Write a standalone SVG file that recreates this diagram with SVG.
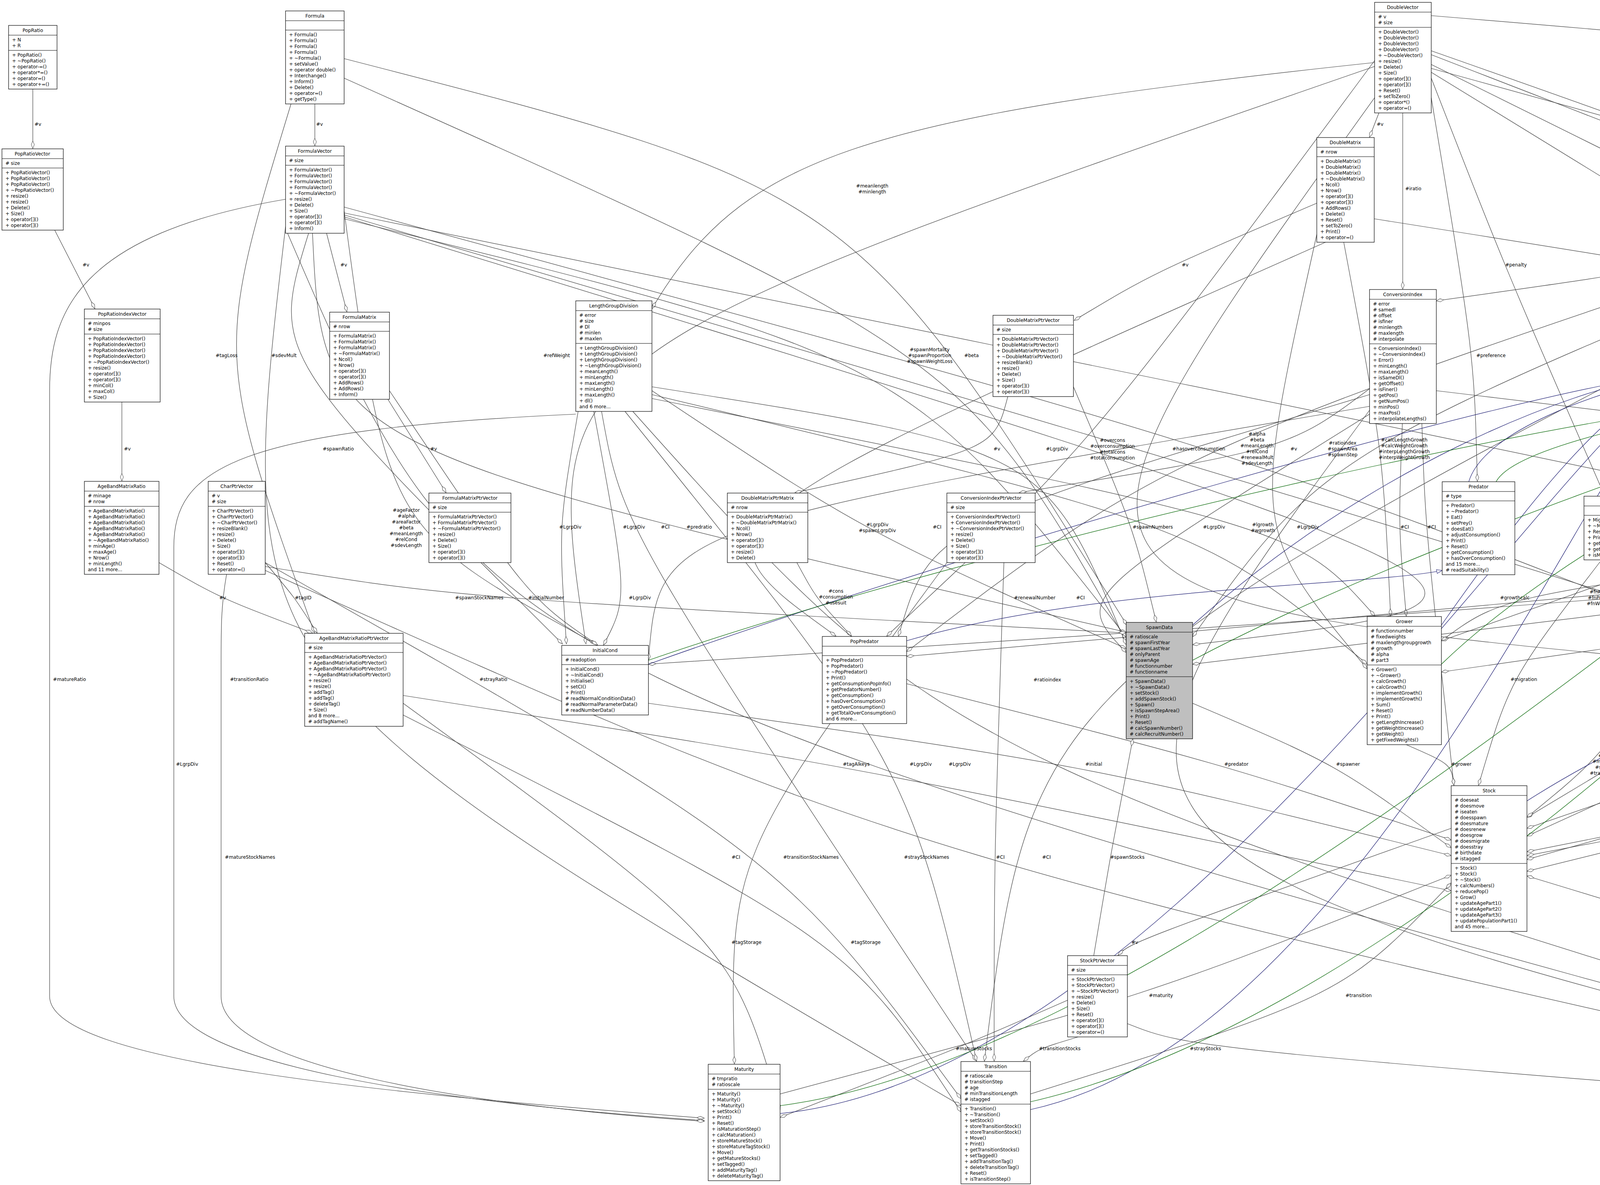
<svg xmlns="http://www.w3.org/2000/svg" width="7355" height="3033" viewBox="0 0 7355 3033">
<defs>
<style>
text{font-family:"DejaVu Sans","Liberation Sans",sans-serif;font-size:12px;fill:#000}
.t{text-anchor:middle}
.l{text-anchor:middle}
rect,line.s{stroke:#000;stroke-width:1.2}
rect{fill:#fff}
rect.hl{fill:#bfbfbf}
.e{fill:none;stroke:#404040;stroke-width:1.2}
.n{fill:none;stroke:#191970;stroke-width:1.2}
.g{fill:none;stroke:#006400;stroke-width:1.2}
</style>
<marker id="d" markerWidth="22" markerHeight="12" refX="20" refY="6" orient="auto" markerUnits="userSpaceOnUse"><path d="M1,6 L10,2 L20,6 L10,10 Z" fill="#fff" stroke="#404040"/></marker>
<marker id="tn" markerWidth="16" markerHeight="12" refX="15" refY="6" orient="auto" markerUnits="userSpaceOnUse"><path d="M1,1 L15,6 L1,11 Z" fill="#fff" stroke="#191970"/></marker>
<marker id="tg" markerWidth="16" markerHeight="12" refX="15" refY="6" orient="auto" markerUnits="userSpaceOnUse"><path d="M1,1 L15,6 L1,11 Z" fill="#fff" stroke="#006400"/></marker>
</defs>
<rect x="0" y="0" width="7355" height="3033" style="fill:#fff;stroke:none"/>
<g id="connectors">
<g marker-end="url(#d)">
<path class="e" d="M84,228 L84,380"/>
<path class="e" d="M806,266 L806,373"/>
<path class="e" d="M140,589 L243,790"/>
<path class="e" d="M836,597 L888,798"/>
<path class="e" d="M312,1029 L312,1231"/>
<path class="e" d="M993,1022 L1142,1261"/>
<path class="e" d="M3530,289 L3506,351"/>
<path class="e" d="M3591,289 L3591,740"/>
<path class="e" d="M3371,520 C2950,700 2950,700 2750,820"/>
<path class="e" d="M4999,612 L4999,828"/>
<path class="e" d="M6692,243 L6664,351"/>
<path class="e" d="M6745,243 L6780,373"/>
<path class="e" d="M6040,589 L6065,798"/>
<path class="e" d="M6625,620 L6625,791"/>
<path class="e" d="M6762,597 C6700,700 6500,760 6364,833"/>
<path class="e" d="M6625,1030 L6625,1217"/>
<path class="e" d="M3519,160 C2200,300 1900,400 1669,790"/>
<path class="e" d="M2580,1015 C2545,1149 2545,1149 2035,1261"/>
<path class="e" d="M3506,995 C3300,1149 3300,1149 2609,1261"/>
<path class="e" d="M745,266 C550,906 550,906 805,1620"/>
<path class="e" d="M790,597 C694,906 694,906 1440,1648"/>
<path class="e" d="M3519,170 C1388,906 1388,906 1500,1648"/>
<path class="e" d="M800,597 C826,1149 826,1149 2883,1618"/>
<path class="e" d="M881,540 C990,1355 990,1355 1525,1648"/>
<path class="e" d="M1480,1053 C1430,1349 1430,1349 1450,1648"/>
<path class="e" d="M1540,1053 C1593,1349 1593,1349 2500,2716"/>
<path class="e" d="M3506,1040 C1687,1349 1687,1349 1660,1690"/>
<path class="e" d="M3400,617 C1750,1349 1750,1349 2140,1628"/>
<path class="e" d="M881,150 C2190,487 2190,487 2885,1600"/>
<path class="e" d="M881,560 C2318,914 2318,914 2883,1630"/>
<path class="e" d="M881,200 C2467,910 2467,910 2883,1640"/>
<path class="e" d="M1669,990 C2676,1149 2676,1149 2883,1650"/>
<path class="e" d="M3519,155 C2780,1153 2780,1153 2270,1628"/>
<path class="e" d="M4942,505 C3002,1149 3002,1149 2321,1668"/>
<path class="e" d="M881,530 C3170,1153 3170,1153 4380,1628"/>
<path class="e" d="M4942,520 C3395,1153 3395,1153 3053,1630"/>
<path class="e" d="M3440,620 C3540,1153 3540,1153 3560,1577"/>
<path class="e" d="M1669,1000 C2200,1354 2200,1354 2883,1660"/>
<path class="e" d="M3506,1010 C2383,1349 2383,1349 2300,1628"/>
<path class="e" d="M2748,990 C2901,1349 2901,1349 2960,1592"/>
<path class="e" d="M1669,1010 C3078,1349 3078,1349 3500,1700"/>
<path class="e" d="M3371,600 C3203,1354 3203,1354 3500,1712"/>
<path class="e" d="M1669,1020 C3318,1349 3318,1349 3520,1577"/>
<path class="e" d="M3590,1084 C3580,1349 3580,1349 3600,1577"/>
<path class="e" d="M3640,1084 C3649,1349 3649,1349 3722,2010"/>
<path class="e" d="M2040,1440 C2090,1532 2090,1532 2180,1628"/>
<path class="e" d="M3664,200 C3850,678 3850,678 4108,1269"/>
<path class="e" d="M4942,520 C4300,683 4300,683 3677,770"/>
<path class="e" d="M3664,250 C3774,910 3774,910 3782,1232"/>
<path class="e" d="M3664,165 C5180,914 5180,914 5398,1239"/>
<path class="e" d="M5057,540 C5370,910 5370,910 5457,1239"/>
<path class="e" d="M3664,175 C5485,678 5485,678 5520,1239"/>
<path class="e" d="M3677,1000 C4925,1149 4925,1149 5330,1239"/>
<path class="e" d="M3664,185 C5237,1149 5237,1149 5600,1664"/>
<path class="e" d="M3664,140 C5655,910 5655,910 5533,1400"/>
<path class="e" d="M3518,560 C5760,914 5760,914 3690,1640"/>
<path class="e" d="M3664,130 C5883,910 5883,910 3909,2092"/>
<path class="e" d="M5057,600 C5555,1153 5555,1153 4595,1720"/>
<path class="e" d="M5995,1022 C5752,1149 5752,1149 5740,1268"/>
<path class="e" d="M6230,1015 C6130,1149 6130,1149 5533,1300"/>
<path class="e" d="M6040,1022 C5940,1354 5940,1354 3053,1700"/>
<path class="e" d="M6240,1015 C6103,1349 6103,1349 2321,1680"/>
<path class="e" d="M6300,1015 C6280,1349 6280,1349 3690,1720"/>
<path class="e" d="M6160,1022 C6428,1349 6428,1349 5627,1717"/>
<path class="e" d="M6363,1000 C6925,1349 6925,1349 3909,2200"/>
<path class="e" d="M6516,1480 C5625,1530 5625,1530 3909,2120"/>
<path class="e" d="M881,545 C5722,1530 5722,1530 5612,1664"/>
<path class="e" d="M6540,1486 C6270,1530 6270,1530 4595,1730"/>
<path class="e" d="M6560,1486 C6462,1530 6462,1530 6350,1658"/>
<path class="e" d="M6700,1486 C6742,1530 6742,1530 3909,2230"/>
<path class="e" d="M3664,40 C6800,300 7232,400 7232,1000 L7232,2550 C7232,2750 6000,2820 5558,2868"/>
<path class="e" d="M6520,1486 C6508,1739 6508,1739 5560,2866"/>
<path class="e" d="M5057,560 C7005,1739 7005,1739 5558,2872"/>
<path class="e" d="M5057,580 C7115,1743 7115,1743 5558,2876"/>
<path class="e" d="M6516,1470 C6102,2194 6102,2194 5558,2880"/>
<path class="e" d="M881,550 C6462,2194 6462,2194 5558,2884"/>
<path class="e" d="M6734,1400 C6795,2194 6795,2194 5558,2888"/>
<path class="e" d="M4640,1418 C3840,1530 3840,1530 3690,1640"/>
<path class="e" d="M881,555 C4060,1534 4060,1534 3053,1650"/>
<path class="e" d="M6516,1300 C4282,1530 4282,1530 1660,1700"/>
<path class="e" d="M4420,1463 C4375,1530 4375,1530 4325,1621"/>
<path class="e" d="M4100,1433 C3865,1739 3865,1739 3785,2010"/>
<path class="e" d="M3600,1906 C3715,1956 3715,1956 3722,2010"/>
<path class="e" d="M4197,1800 C4070,1960 4070,1960 3909,2092"/>
<path class="e" d="M4405,1852 C4315,1956 4315,1956 3909,2140"/>
<path class="e" d="M5461,1750 C5040,1956 5040,1956 3909,2180"/>
<path class="e" d="M6205,1730 C5143,1956 5143,1956 3909,2190"/>
<path class="e" d="M5387,2800 C4917,2548 4917,2548 3909,2242"/>
<path class="e" d="M2321,1750 C3132,1956 3132,1956 3715,2150"/>
<path class="e" d="M3053,1800 C3420,1956 3420,1956 3715,2170"/>
<path class="e" d="M1660,1800 C2775,1956 2775,1956 3715,2190"/>
<path class="e" d="M1997,2800 C2940,2548 2940,2548 3715,2240"/>
<path class="e" d="M2638,2800 C3440,2548 3440,2548 3715,2260"/>
<path class="e" d="M3715,2120 C2895,2412 2895,2412 2862,2445"/>
<path class="e" d="M2800,2446 C2842,2194 2842,2194 2900,1891"/>
<path class="e" d="M2733,2560 C2450,2684 2450,2684 1997,2860"/>
<path class="e" d="M2760,2654 C2660,2684 2660,2684 2620,2716"/>
<path class="e" d="M2886,2620 C3048,2684 3048,2684 5387,2868"/>
<path class="e" d="M2424,1440 C1868,2194 1868,2194 1880,2723"/>
<path class="e" d="M679,1440 C2006,2194 2006,2194 2460,2812"/>
<path class="e" d="M679,1460 C2320,2194 2320,2194 5387,2875"/>
<path class="e" d="M2570,1440 C2545,2194 2545,2194 2545,2716"/>
<path class="e" d="M3506,1050 C2663,2194 2663,2194 5387,2860"/>
<path class="e" d="M1032,1800 C1872,2412 1872,2412 1997,2840"/>
<path class="e" d="M1032,1830 C2177,2412 2177,2412 2460,2846"/>
<path class="e" d="M1032,1780 C2155,1956 2155,1956 3715,2280"/>
<path class="e" d="M1600,1053 C2327,1956 2327,1956 2500,2716"/>
<path class="e" d="M1620,1053 C2427,1956 2427,1956 5387,2850"/>
<path class="e" d="M3519,250 C2600,1530 2600,1530 4375,1700"/>
<path class="e" d="M3506,1060 C2750,1530 2750,1530 2883,1670"/>
<path class="e" d="M4942,560 C2643,1740 2643,1740 2520,2716"/>
<path class="e" d="M731,510 C200,600 127,800 127,1000 L127,2550 C127,2720 1000,2800 1803,2862"/>
<path class="e" d="M1474,1060 C600,1100 445,1200 445,1400 L445,2550 C445,2720 1100,2820 1803,2868"/>
<path class="e" d="M580,1470 C566,1550 566,1600 566,1700 L566,2550 C566,2730 1200,2830 1803,2870"/>
<path class="e" d="M731,580 C595,1739 595,1739 2460,2830"/>
<path class="e" d="M731,585 C1228,1739 1228,1739 5387,2866"/>
<path class="e" d="M407,1440 C562,1530 562,1530 800,1620"/>
<path class="e" d="M679,1440 C755,1530 755,1530 812,1620"/>
<path class="e" d="M679,1450 C1172,1530 1172,1530 2883,1620"/>
<path class="e" d="M997,1000 C1352,1530 1352,1530 1530,1651"/>
<path class="e" d="M1520,1053 C1608,1530 1608,1530 1545,1651"/>
</g>
<g marker-end="url(#tn)">
<path class="n" d="M3760,1233 C3800,1100 4100,1000 4275,962"/>
<path class="n" d="M4145,1270 C4150,1100 4250,1000 4278,968"/>
<path class="n" d="M4420,1240 C4400,1100 4360,1050 4340,970"/>
<path class="n" d="M4940,1240 C4900,1100 4500,1000 4396,960"/>
<path class="n" d="M5330,1240 C5300,1100 4600,1000 4396,952"/>
<path class="n" d="M3909,2050 C4300,1800 4900,1600 4945,1463"/>
<path class="n" d="M2321,1640 C2800,1500 3500,1500 3692,1460"/>
<path class="n" d="M6205,1700 C6000,1550 5600,1500 5533,1463"/>
<path class="n" d="M3053,1600 C3500,1200 4000,1000 4275,955"/>
<path class="n" d="M3690,1600 C3900,1300 4100,1050 4277,965"/>
<path class="n" d="M4975,1240 L4975,992"/>
<path class="n" d="M5345,1240 C5300,1100 5100,1050 5060,992"/>
<path class="n" d="M4595,1640 C4700,1400 4500,1100 4396,970"/>
<path class="n" d="M1997,2850 C3000,2750 4000,1100 4290,970"/>
<path class="n" d="M2638,2840 C3500,2650 4100,1100 4300,970"/>
<path class="n" d="M5450,2732 C5400,2200 4500,1100 4380,970"/>
<path class="n" d="M1660,1700 C2500,1400 3900,1000 4275,958"/>
<path class="n" d="M5461,1700 C5300,1400 4600,1050 4396,965"/>
</g>
<g marker-end="url(#tg)">
<path class="g" d="M3830,1233 C3900,1100 4700,1000 4926,945"/>
<path class="g" d="M4200,1270 C4200,1150 4600,1020 4926,955"/>
<path class="g" d="M4735,1284 C4800,1150 4900,1050 4960,992"/>
<path class="g" d="M3053,1690 C3600,1400 4500,1100 4926,965"/>
<path class="g" d="M4500,1629 C4600,1400 4950,1150 5040,992"/>
<path class="g" d="M5500,1665 C5500,1400 5150,1100 5065,992"/>
<path class="g" d="M1997,2830 C3000,2700 4500,1300 5050,992"/>
<path class="g" d="M2638,2820 C3600,2600 4800,1400 5060,992"/>
<path class="g" d="M5500,2732 C5600,2300 5300,1300 5073,980"/>
<path class="g" d="M1660,1690 C2500,1400 4200,1000 4926,975"/>
<path class="g" d="M3690,1700 C4000,1400 4600,1100 4926,985"/>
</g>
<g id="labels">
<text class="l" x="97" y="322">#v</text>
<text class="l" x="818" y="322">#v</text>
<text class="l" x="220" y="682">#v</text>
<text class="l" x="880" y="682">#v</text>
<text class="l" x="326" y="1153">#v</text>
<text class="l" x="1110" y="1153">#v</text>
<text class="l" x="3533" y="322">#v</text>
<text class="l" x="3618" y="487">#iratio</text>
<text class="l" x="3034" y="682">#v</text>
<text class="l" x="5027" y="682">#areas</text>
<text class="l" x="6681" y="322">#v</text>
<text class="l" x="6783" y="322">#v</text>
<text class="l" x="6070" y="682">#v</text>
<text class="l" x="6639" y="682">#v</text>
<text class="l" x="6744" y="682">#v</text>
<text class="l" x="6638" y="1153">#v</text>
<text class="l" x="2552" y="1153">#v</text>
<text class="l" x="3312" y="1153">#v</text>
<text class="l" x="580" y="914">#tagLoss</text>
<text class="l" x="727" y="914">#sdevMult</text>
<text class="l" x="1425" y="914">#refWeight</text>
<text class="l" x="866" y="1153">#spawnRatio</text>
<text class="l" x="1040" y="1310">#ageFactor</text>
<text class="l" x="1040" y="1325">#alpha</text>
<text class="l" x="1040" y="1340">#areaFactor</text>
<text class="l" x="1040" y="1355">#beta</text>
<text class="l" x="1040" y="1370">#meanLength</text>
<text class="l" x="1040" y="1385">#relCond</text>
<text class="l" x="1040" y="1400">#sdevLength</text>
<text class="l" x="1460" y="1353">#LgrpDiv</text>
<text class="l" x="1623" y="1353">#LgrpDiv</text>
<text class="l" x="1703" y="1353">#CI</text>
<text class="l" x="1790" y="1353">#predratio</text>
<text class="l" x="2233" y="480">#meanlength</text>
<text class="l" x="2233" y="495">#minlength</text>
<text class="l" x="2380" y="899">#spawnMortality</text>
<text class="l" x="2380" y="914">#spawnProportion</text>
<text class="l" x="2380" y="929">#spawnWeightLoss</text>
<text class="l" x="2487" y="914">#beta</text>
<text class="l" x="2706" y="1153">#LgrpDiv</text>
<text class="l" x="2848" y="1131">#overcons</text>
<text class="l" x="2848" y="1146">#overconsumption</text>
<text class="l" x="2848" y="1161">#totalcons</text>
<text class="l" x="2848" y="1176">#totalconsumption</text>
<text class="l" x="3069" y="1153">#hasoverconsumption</text>
<text class="l" x="3218" y="1115">#alpha</text>
<text class="l" x="3218" y="1130">#beta</text>
<text class="l" x="3218" y="1145">#meanLength</text>
<text class="l" x="3218" y="1160">#relCond</text>
<text class="l" x="3218" y="1175">#renewalMult</text>
<text class="l" x="3218" y="1190">#sdevLength</text>
<text class="l" x="3437" y="1138">#ratioindex</text>
<text class="l" x="3437" y="1153">#spawnArea</text>
<text class="l" x="3437" y="1168">#spawnStep</text>
<text class="l" x="3595" y="1130">#calcLengthGrowth</text>
<text class="l" x="3595" y="1145">#calcWeightGrowth</text>
<text class="l" x="3595" y="1160">#interpLengthGrowth</text>
<text class="l" x="3595" y="1175">#interpWeightGrowth</text>
<text class="l" x="2246" y="1347">#LgrpDiv</text>
<text class="l" x="2246" y="1362">#spawnLgrpDiv</text>
<text class="l" x="2399" y="1353">#CI</text>
<text class="l" x="2951" y="1353">#spawnNumbers</text>
<text class="l" x="3108" y="1353">#LgrpDiv</text>
<text class="l" x="3233" y="1347">#lgrowth</text>
<text class="l" x="3233" y="1362">#wgrowth</text>
<text class="l" x="3348" y="1353">#LgrpDiv</text>
<text class="l" x="3596" y="1353">#CI</text>
<text class="l" x="3665" y="1353">#CI</text>
<text class="l" x="2140" y="1517">#cons</text>
<text class="l" x="2140" y="1532">#consumption</text>
<text class="l" x="2140" y="1547">#usesuit</text>
<text class="l" x="3881" y="682">#penalty</text>
<text class="l" x="4334" y="653">#lpos</text>
<text class="l" x="4334" y="668">#maxpos</text>
<text class="l" x="4334" y="683">#minpos</text>
<text class="l" x="4334" y="698">#numpos</text>
<text class="l" x="4334" y="713">#pos</text>
<text class="l" x="3817" y="914">#preference</text>
<text class="l" x="5235" y="870">#biomass</text>
<text class="l" x="5235" y="885">#cons</text>
<text class="l" x="5235" y="900">#consratio</text>
<text class="l" x="5235" y="915">#consumption</text>
<text class="l" x="5235" y="930">#overconsumption</text>
<text class="l" x="5235" y="945">#ratio</text>
<text class="l" x="5235" y="960">#useratio</text>
<text class="l" x="5433" y="914">#isoverconsumption</text>
<text class="l" x="5510" y="682">#total</text>
<text class="l" x="4941" y="1153">#CI</text>
<text class="l" x="5279" y="1153">#proportion</text>
<text class="l" x="5685" y="914">#energy</text>
<text class="l" x="5805" y="892">#dummyfphi</text>
<text class="l" x="5805" y="907">#part1</text>
<text class="l" x="5805" y="922">#part2</text>
<text class="l" x="5805" y="937">#part4</text>
<text class="l" x="5920" y="914">#refWeight</text>
<text class="l" x="5612" y="1138">#renewalAge</text>
<text class="l" x="5612" y="1153">#renewalArea</text>
<text class="l" x="5612" y="1168">#renewalTime</text>
<text class="l" x="5778" y="1153">#coeff</text>
<text class="l" x="6172" y="1153">#preynumber</text>
<text class="l" x="6001" y="1347">#spawnParameters</text>
<text class="l" x="6001" y="1362">#stockParameters</text>
<text class="l" x="6145" y="1353">#prednumber</text>
<text class="l" x="6313" y="1353">#numGrow</text>
<text class="l" x="6463" y="1353">#mortality</text>
<text class="l" x="6964" y="1353">#tmpMigrate</text>
<text class="l" x="5655" y="1534">#Storage</text>
<text class="l" x="5762" y="1534">#fnMortality</text>
<text class="l" x="6340" y="1534">#renewalDistribution</text>
<text class="l" x="6500" y="1534">#preyAlkeys</text>
<text class="l" x="6789" y="1534">#tmpPopulation</text>
<text x="7238" y="1534">#strayProportion</text>
<text class="l" x="6533" y="1743">#Alkeys</text>
<text class="l" x="7045" y="1743">#ratioindex</text>
<text class="l" x="7155" y="1728">#ratioindex</text>
<text class="l" x="7155" y="1743">#strayArea</text>
<text class="l" x="7155" y="1758">#strayStep</text>
<text class="l" x="6131" y="2198">#Storage</text>
<text class="l" x="6504" y="2198">#fnProportion</text>
<text class="l" x="6823" y="2198">#Storage</text>
<text class="l" x="3878" y="1534">#growthcalc</text>
<text class="l" x="4107" y="1519">#fnMortality</text>
<text class="l" x="4107" y="1534">#fnProportion</text>
<text class="l" x="4107" y="1549">#fnWeightLoss</text>
<text class="l" x="4315" y="1534">#initialPop</text>
<text class="l" x="4390" y="1534">#v</text>
<text class="l" x="3901" y="1743">#migration</text>
<text class="l" x="3741" y="1960">#grower</text>
<text class="l" x="4117" y="1938">#allTags</text>
<text class="l" x="4117" y="1953">#matureTags</text>
<text class="l" x="4117" y="1968">#strayTags</text>
<text class="l" x="4117" y="1983">#transitionTags</text>
<text class="l" x="4343" y="1960">#renewal</text>
<text class="l" x="5074" y="1960">#naturalm</text>
<text class="l" x="5164" y="1960">#prey</text>
<text class="l" x="4941" y="2552">#stray</text>
<text class="l" x="3165" y="1960">#predator</text>
<text class="l" x="3451" y="1960">#spawner</text>
<text class="l" x="2800" y="1960">#initial</text>
<text class="l" x="2972" y="2552">#maturity</text>
<text class="l" x="3478" y="2552">#transition</text>
<text class="l" x="2905" y="2416">#v</text>
<text class="l" x="2886" y="2198">#spawnStocks</text>
<text class="l" x="2493" y="2688">#matureStocks</text>
<text class="l" x="2713" y="2688">#transitionStocks</text>
<text class="l" x="3086" y="2688">#strayStocks</text>
<text class="l" x="1884" y="2198">#CI</text>
<text class="l" x="2076" y="2198">#transitionStockNames</text>
<text class="l" x="2372" y="2198">#strayStockNames</text>
<text class="l" x="2561" y="2198">#CI</text>
<text class="l" x="2679" y="2198">#CI</text>
<text class="l" x="1911" y="2416">#tagStorage</text>
<text class="l" x="2216" y="2416">#tagStorage</text>
<text class="l" x="2192" y="1960">#tagAlkeys</text>
<text class="l" x="2357" y="1960">#LgrpDiv</text>
<text class="l" x="2457" y="1960">#LgrpDiv</text>
<text class="l" x="2649" y="1534">#renewalNumber</text>
<text class="l" x="2766" y="1534">#CI</text>
<text class="l" x="2681" y="1744">#ratioindex</text>
<text class="l" x="178" y="1743">#matureRatio</text>
<text class="l" x="479" y="1960">#LgrpDiv</text>
<text class="l" x="640" y="2198">#matureStockNames</text>
<text class="l" x="638" y="1743">#transitionRatio</text>
<text class="l" x="1263" y="1743">#strayRatio</text>
<text class="l" x="570" y="1534">#v</text>
<text class="l" x="776" y="1534">#tagID</text>
<text class="l" x="1227" y="1534">#spawnStockNames</text>
<text class="l" x="1398" y="1534">#initialNumber</text>
<text class="l" x="1638" y="1534">#LgrpDiv</text>
</g>
</g>

<g id="PopRatio"><rect x="22" y="65" width="124" height="163"/><line class="s" x1="22" y1="90" x2="146" y2="90"/><line class="s" x1="22" y1="129" x2="146" y2="129"/><text class="t" x="84" y="82">PopRatio</text><text x="31" y="106">+ N</text><text x="31" y="121">+ R</text><text x="31" y="145">+ PopRatio()</text><text x="31" y="160">+ ~PopRatio()</text><text x="31" y="175">+ operator-=()</text><text x="31" y="190">+ operator*=()</text><text x="31" y="205">+ operator=()</text><text x="31" y="220">+ operator+=()</text></g>

<g id="Formula"><rect x="731" y="28" width="150" height="238"/><line class="s" x1="731" y1="53" x2="881" y2="53"/><line class="s" x1="731" y1="77" x2="881" y2="77"/><text class="t" x="806" y="45">Formula</text><text x="740" y="93">+ Formula()</text><text x="740" y="108">+ Formula()</text><text x="740" y="123">+ Formula()</text><text x="740" y="138">+ Formula()</text><text x="740" y="153">+ ~Formula()</text><text x="740" y="168">+ setValue()</text><text x="740" y="183">+ operator double()</text><text x="740" y="198">+ Interchange()</text><text x="740" y="213">+ Inform()</text><text x="740" y="228">+ Delete()</text><text x="740" y="243">+ operator=()</text><text x="740" y="258">+ getType()</text></g>

<g id="PopRatioVector"><rect x="5" y="381" width="157" height="208"/><line class="s" x1="5" y1="406" x2="162" y2="406"/><line class="s" x1="5" y1="430" x2="162" y2="430"/><text class="t" x="83" y="398">PopRatioVector</text><text x="14" y="422"># size</text><text x="14" y="446">+ PopRatioVector()</text><text x="14" y="461">+ PopRatioVector()</text><text x="14" y="476">+ PopRatioVector()</text><text x="14" y="491">+ ~PopRatioVector()</text><text x="14" y="506">+ resize()</text><text x="14" y="521">+ resize()</text><text x="14" y="536">+ Delete()</text><text x="14" y="551">+ Size()</text><text x="14" y="566">+ operator[]()</text><text x="14" y="581">+ operator[]()</text></g>

<g id="FormulaVector"><rect x="731" y="374" width="150" height="223"/><line class="s" x1="731" y1="399" x2="881" y2="399"/><line class="s" x1="731" y1="423" x2="881" y2="423"/><text class="t" x="806" y="391">FormulaVector</text><text x="740" y="415"># size</text><text x="740" y="439">+ FormulaVector()</text><text x="740" y="454">+ FormulaVector()</text><text x="740" y="469">+ FormulaVector()</text><text x="740" y="484">+ FormulaVector()</text><text x="740" y="499">+ ~FormulaVector()</text><text x="740" y="514">+ resize()</text><text x="740" y="529">+ Delete()</text><text x="740" y="544">+ Size()</text><text x="740" y="559">+ operator[]()</text><text x="740" y="574">+ operator[]()</text><text x="740" y="589">+ Inform()</text></g>

<g id="PopRatioIndexVector"><rect x="216" y="791" width="194" height="238"/><line class="s" x1="216" y1="816" x2="410" y2="816"/><line class="s" x1="216" y1="855" x2="410" y2="855"/><text class="t" x="313" y="808">PopRatioIndexVector</text><text x="225" y="832"># minpos</text><text x="225" y="847"># size</text><text x="225" y="871">+ PopRatioIndexVector()</text><text x="225" y="886">+ PopRatioIndexVector()</text><text x="225" y="901">+ PopRatioIndexVector()</text><text x="225" y="916">+ PopRatioIndexVector()</text><text x="225" y="931">+ ~PopRatioIndexVector()</text><text x="225" y="946">+ resize()</text><text x="225" y="961">+ operator[]()</text><text x="225" y="976">+ operator[]()</text><text x="225" y="991">+ minCol()</text><text x="225" y="1006">+ maxCol()</text><text x="225" y="1021">+ Size()</text></g>

<g id="FormulaMatrix"><rect x="844" y="799" width="153" height="223"/><line class="s" x1="844" y1="824" x2="997" y2="824"/><line class="s" x1="844" y1="848" x2="997" y2="848"/><text class="t" x="920" y="816">FormulaMatrix</text><text x="853" y="840"># nrow</text><text x="853" y="864">+ FormulaMatrix()</text><text x="853" y="879">+ FormulaMatrix()</text><text x="853" y="894">+ FormulaMatrix()</text><text x="853" y="909">+ ~FormulaMatrix()</text><text x="853" y="924">+ Ncol()</text><text x="853" y="939">+ Nrow()</text><text x="853" y="954">+ operator[]()</text><text x="853" y="969">+ operator[]()</text><text x="853" y="984">+ AddRows()</text><text x="853" y="999">+ AddRows()</text><text x="853" y="1014">+ Inform()</text></g>

<g id="LengthGroupDivision"><rect x="1474" y="770" width="195" height="283"/><line class="s" x1="1474" y1="795" x2="1669" y2="795"/><line class="s" x1="1474" y1="879" x2="1669" y2="879"/><text class="t" x="1571" y="787">LengthGroupDivision</text><text x="1483" y="811"># error</text><text x="1483" y="826"># size</text><text x="1483" y="841"># Dl</text><text x="1483" y="856"># minlen</text><text x="1483" y="871"># maxlen</text><text x="1483" y="895">+ LengthGroupDivision()</text><text x="1483" y="910">+ LengthGroupDivision()</text><text x="1483" y="925">+ LengthGroupDivision()</text><text x="1483" y="940">+ ~LengthGroupDivision()</text><text x="1483" y="955">+ meanLength()</text><text x="1483" y="970">+ minLength()</text><text x="1483" y="985">+ maxLength()</text><text x="1483" y="1000">+ minLength()</text><text x="1483" y="1015">+ maxLength()</text><text x="1483" y="1030">+ dl()</text><text x="1483" y="1045">and 6 more...</text></g>

<g id="AgeBandMatrixRatio"><rect x="216" y="1232" width="191" height="238"/><line class="s" x1="216" y1="1257" x2="407" y2="1257"/><line class="s" x1="216" y1="1296" x2="407" y2="1296"/><text class="t" x="311" y="1249">AgeBandMatrixRatio</text><text x="225" y="1273"># minage</text><text x="225" y="1288"># nrow</text><text x="225" y="1312">+ AgeBandMatrixRatio()</text><text x="225" y="1327">+ AgeBandMatrixRatio()</text><text x="225" y="1342">+ AgeBandMatrixRatio()</text><text x="225" y="1357">+ AgeBandMatrixRatio()</text><text x="225" y="1372">+ AgeBandMatrixRatio()</text><text x="225" y="1387">+ ~AgeBandMatrixRatio()</text><text x="225" y="1402">+ minAge()</text><text x="225" y="1417">+ maxAge()</text><text x="225" y="1432">+ Nrow()</text><text x="225" y="1447">+ minLength()</text><text x="225" y="1462">and 11 more...</text></g>

<g id="CharPtrVector"><rect x="533" y="1232" width="146" height="238"/><line class="s" x1="533" y1="1257" x2="679" y2="1257"/><line class="s" x1="533" y1="1296" x2="679" y2="1296"/><text class="t" x="606" y="1249">CharPtrVector</text><text x="542" y="1273"># v</text><text x="542" y="1288"># size</text><text x="542" y="1312">+ CharPtrVector()</text><text x="542" y="1327">+ CharPtrVector()</text><text x="542" y="1342">+ ~CharPtrVector()</text><text x="542" y="1357">+ resizeBlank()</text><text x="542" y="1372">+ resize()</text><text x="542" y="1387">+ Delete()</text><text x="542" y="1402">+ Size()</text><text x="542" y="1417">+ operator[]()</text><text x="542" y="1432">+ operator[]()</text><text x="542" y="1447">+ Reset()</text><text x="542" y="1462">+ operator=()</text></g>

<g id="FormulaMatrixPtrVector"><rect x="1098" y="1262" width="210" height="178"/><line class="s" x1="1098" y1="1287" x2="1308" y2="1287"/><line class="s" x1="1098" y1="1311" x2="1308" y2="1311"/><text class="t" x="1203" y="1279">FormulaMatrixPtrVector</text><text x="1107" y="1303"># size</text><text x="1107" y="1327">+ FormulaMatrixPtrVector()</text><text x="1107" y="1342">+ FormulaMatrixPtrVector()</text><text x="1107" y="1357">+ ~FormulaMatrixPtrVector()</text><text x="1107" y="1372">+ resize()</text><text x="1107" y="1387">+ Delete()</text><text x="1107" y="1402">+ Size()</text><text x="1107" y="1417">+ operator[]()</text><text x="1107" y="1432">+ operator[]()</text></g>

<g id="DoubleVector"><rect x="3519" y="6" width="145" height="283"/><line class="s" x1="3519" y1="31" x2="3664" y2="31"/><line class="s" x1="3519" y1="70" x2="3664" y2="70"/><text class="t" x="3591" y="23">DoubleVector</text><text x="3528" y="47"># v</text><text x="3528" y="62"># size</text><text x="3528" y="86">+ DoubleVector()</text><text x="3528" y="101">+ DoubleVector()</text><text x="3528" y="116">+ DoubleVector()</text><text x="3528" y="131">+ DoubleVector()</text><text x="3528" y="146">+ ~DoubleVector()</text><text x="3528" y="161">+ resize()</text><text x="3528" y="176">+ Delete()</text><text x="3528" y="191">+ Size()</text><text x="3528" y="206">+ operator[]()</text><text x="3528" y="221">+ operator[]()</text><text x="3528" y="236">+ Reset()</text><text x="3528" y="251">+ setToZero()</text><text x="3528" y="266">+ operator*()</text><text x="3528" y="281">+ operator=()</text></g>

<g id="DoubleMatrix"><rect x="3371" y="352" width="147" height="268"/><line class="s" x1="3371" y1="377" x2="3518" y2="377"/><line class="s" x1="3371" y1="401" x2="3518" y2="401"/><text class="t" x="3444" y="369">DoubleMatrix</text><text x="3380" y="393"># nrow</text><text x="3380" y="417">+ DoubleMatrix()</text><text x="3380" y="432">+ DoubleMatrix()</text><text x="3380" y="447">+ DoubleMatrix()</text><text x="3380" y="462">+ ~DoubleMatrix()</text><text x="3380" y="477">+ Ncol()</text><text x="3380" y="492">+ Nrow()</text><text x="3380" y="507">+ operator[]()</text><text x="3380" y="522">+ operator[]()</text><text x="3380" y="537">+ AddRows()</text><text x="3380" y="552">+ Delete()</text><text x="3380" y="567">+ Reset()</text><text x="3380" y="582">+ setToZero()</text><text x="3380" y="597">+ Print()</text><text x="3380" y="612">+ operator=()</text></g>

<g id="ConversionIndex"><rect x="3506" y="741" width="171" height="343"/><line class="s" x1="3506" y1="766" x2="3677" y2="766"/><line class="s" x1="3506" y1="880" x2="3677" y2="880"/><text class="t" x="3591" y="758">ConversionIndex</text><text x="3515" y="782"># error</text><text x="3515" y="797"># samedl</text><text x="3515" y="812"># offset</text><text x="3515" y="827"># isfiner</text><text x="3515" y="842"># minlength</text><text x="3515" y="857"># maxlength</text><text x="3515" y="872"># interpolate</text><text x="3515" y="896">+ ConversionIndex()</text><text x="3515" y="911">+ ~ConversionIndex()</text><text x="3515" y="926">+ Error()</text><text x="3515" y="941">+ minLength()</text><text x="3515" y="956">+ maxLength()</text><text x="3515" y="971">+ isSameDl()</text><text x="3515" y="986">+ getOffset()</text><text x="3515" y="1001">+ isFiner()</text><text x="3515" y="1016">+ getPos()</text><text x="3515" y="1031">+ getNumPos()</text><text x="3515" y="1046">+ minPos()</text><text x="3515" y="1061">+ maxPos()</text><text x="3515" y="1076">+ interpolateLengths()</text></g>

<g id="DoubleMatrixPtrVector"><rect x="2542" y="807" width="206" height="208"/><line class="s" x1="2542" y1="832" x2="2748" y2="832"/><line class="s" x1="2542" y1="856" x2="2748" y2="856"/><text class="t" x="2645" y="824">DoubleMatrixPtrVector</text><text x="2551" y="848"># size</text><text x="2551" y="872">+ DoubleMatrixPtrVector()</text><text x="2551" y="887">+ DoubleMatrixPtrVector()</text><text x="2551" y="902">+ DoubleMatrixPtrVector()</text><text x="2551" y="917">+ ~DoubleMatrixPtrVector()</text><text x="2551" y="932">+ resizeBlank()</text><text x="2551" y="947">+ resize()</text><text x="2551" y="962">+ Delete()</text><text x="2551" y="977">+ Size()</text><text x="2551" y="992">+ operator[]()</text><text x="2551" y="1007">+ operator[]()</text></g>

<g id="DoubleMatrixPtrMatrix"><rect x="1862" y="1262" width="206" height="178"/><line class="s" x1="1862" y1="1287" x2="2068" y2="1287"/><line class="s" x1="1862" y1="1311" x2="2068" y2="1311"/><text class="t" x="1965" y="1279">DoubleMatrixPtrMatrix</text><text x="1871" y="1303"># nrow</text><text x="1871" y="1327">+ DoubleMatrixPtrMatrix()</text><text x="1871" y="1342">+ ~DoubleMatrixPtrMatrix()</text><text x="1871" y="1357">+ Ncol()</text><text x="1871" y="1372">+ Nrow()</text><text x="1871" y="1387">+ operator[]()</text><text x="1871" y="1402">+ operator[]()</text><text x="1871" y="1417">+ resize()</text><text x="1871" y="1432">+ Delete()</text></g>

<g id="ConversionIndexPtrVector"><rect x="2424" y="1262" width="226" height="178"/><line class="s" x1="2424" y1="1287" x2="2650" y2="1287"/><line class="s" x1="2424" y1="1311" x2="2650" y2="1311"/><text class="t" x="2537" y="1279">ConversionIndexPtrVector</text><text x="2433" y="1303"># size</text><text x="2433" y="1327">+ ConversionIndexPtrVector()</text><text x="2433" y="1342">+ ConversionIndexPtrVector()</text><text x="2433" y="1357">+ ~ConversionIndexPtrVector()</text><text x="2433" y="1372">+ resize()</text><text x="2433" y="1387">+ Delete()</text><text x="2433" y="1402">+ Size()</text><text x="2433" y="1417">+ operator[]()</text><text x="2433" y="1432">+ operator[]()</text></g>

<g id="IntVector"><rect x="4942" y="359" width="115" height="253"/><line class="s" x1="4942" y1="384" x2="5057" y2="384"/><line class="s" x1="4942" y1="423" x2="5057" y2="423"/><text class="t" x="4999" y="376">IntVector</text><text x="4951" y="400"># v</text><text x="4951" y="415"># size</text><text x="4951" y="439">+ IntVector()</text><text x="4951" y="454">+ IntVector()</text><text x="4951" y="469">+ IntVector()</text><text x="4951" y="484">+ ~IntVector()</text><text x="4951" y="499">+ resize()</text><text x="4951" y="514">+ Delete()</text><text x="4951" y="529">+ Size()</text><text x="4951" y="544">+ operator[]()</text><text x="4951" y="559">+ operator[]()</text><text x="4951" y="574">+ Reset()</text><text x="4951" y="589">+ setToZero()</text><text x="4951" y="604">+ operator=()</text></g>

<g id="HasName"><rect x="4275" y="851" width="121" height="118"/><line class="s" x1="4275" y1="876" x2="4396" y2="876"/><line class="s" x1="4275" y1="900" x2="4396" y2="900"/><text class="t" x="4335" y="868">HasName</text><text x="4284" y="916">+ HasName()</text><text x="4284" y="931">+ ~HasName()</text><text x="4284" y="946">+ HasName()</text><text x="4284" y="961">+ getName()</text></g>

<g id="LivesOnAreas"><rect x="4926" y="829" width="147" height="163"/><line class="s" x1="4926" y1="854" x2="5073" y2="854"/><line class="s" x1="4926" y1="878" x2="5073" y2="878"/><text class="t" x="4999" y="846">LivesOnAreas</text><text x="4935" y="894">+ LivesOnAreas()</text><text x="4935" y="909">+ ~LivesOnAreas()</text><text x="4935" y="924">+ LivesOnAreas()</text><text x="4935" y="939">+ isInArea()</text><text x="4935" y="954">+ getAreas()</text><text x="4935" y="969">+ areaNum()</text><text x="4935" y="984"># storeAreas()</text></g>

<g id="Predator"><rect x="3692" y="1233" width="186" height="238"/><line class="s" x1="3692" y1="1258" x2="3878" y2="1258"/><line class="s" x1="3692" y1="1282" x2="3878" y2="1282"/><text class="t" x="3785" y="1250">Predator</text><text x="3701" y="1274"># type</text><text x="3701" y="1298">+ Predator()</text><text x="3701" y="1313">+ ~Predator()</text><text x="3701" y="1328">+ Eat()</text><text x="3701" y="1343">+ setPrey()</text><text x="3701" y="1358">+ doesEat()</text><text x="3701" y="1373">+ adjustConsumption()</text><text x="3701" y="1388">+ Print()</text><text x="3701" y="1403">+ Reset()</text><text x="3701" y="1418">+ getConsumption()</text><text x="3701" y="1433">+ hasOverConsumption()</text><text x="3701" y="1448">and 15 more...</text><text x="3701" y="1463"># readSuitability()</text></g>

<g id="Migration"><rect x="4055" y="1270" width="172" height="163"/><line class="s" x1="4055" y1="1295" x2="4227" y2="1295"/><line class="s" x1="4055" y1="1319" x2="4227" y2="1319"/><text class="t" x="4141" y="1287">Migration</text><text x="4064" y="1335">+ Migration()</text><text x="4064" y="1350">+ ~Migration()</text><text x="4064" y="1365">+ Reset()</text><text x="4064" y="1380">+ Print()</text><text x="4064" y="1395">+ getMigrationMatrix()</text><text x="4064" y="1410">+ getPenalty()</text><text x="4064" y="1425">+ isMigrationStep()</text></g>

<g id="Tags"><rect x="4355" y="1240" width="189" height="223"/><line class="s" x1="4355" y1="1265" x2="4544" y2="1265"/><line class="s" x1="4355" y1="1289" x2="4544" y2="1289"/><text class="t" x="4449" y="1257">Tags</text><text x="4364" y="1305">+ Tags()</text><text x="4364" y="1320">+ ~Tags()</text><text x="4364" y="1335">+ Update()</text><text x="4364" y="1350">+ updateTags()</text><text x="4364" y="1365">+ deleteStockTags()</text><text x="4364" y="1380">+ getEndYear()</text><text x="4364" y="1395">+ getNumTagTimeSteps()</text><text x="4364" y="1410">+ getStockNames()</text><text x="4364" y="1425">+ setStock()</text><text x="4364" y="1440">+ updateMatureStock()</text><text x="4364" y="1455">and 10 more...</text></g>

<g id="GrowthCalcBase"><rect x="4620" y="1284" width="165" height="133"/><line class="s" x1="4620" y1="1309" x2="4785" y2="1309"/><line class="s" x1="4620" y1="1333" x2="4785" y2="1333"/><text class="t" x="4702" y="1301">GrowthCalcBase</text><text x="4629" y="1349">+ GrowthCalcBase()</text><text x="4629" y="1364">+ ~GrowthCalcBase()</text><text x="4629" y="1379">+ calcGrowth()</text><text x="4629" y="1394">+ getPower()</text><text x="4629" y="1409">+ getMult()</text></g>

<g id="BaseClass"><rect x="4911" y="1240" width="131" height="223"/><line class="s" x1="4911" y1="1265" x2="5042" y2="1265"/><line class="s" x1="4911" y1="1289" x2="5042" y2="1289"/><text class="t" x="4976" y="1257">BaseClass</text><text x="4920" y="1305">+ BaseClass()</text><text x="4920" y="1320">+ BaseClass()</text><text x="4920" y="1335">+ BaseClass()</text><text x="4920" y="1350">+ ~BaseClass()</text><text x="4920" y="1365">+ calcNumbers()</text><text x="4920" y="1380">+ calcEat()</text><text x="4920" y="1395">+ checkEat()</text><text x="4920" y="1410">+ adjustEat()</text><text x="4920" y="1425">+ reducePop()</text><text x="4920" y="1440">+ Grow()</text><text x="4920" y="1455">and 11 more...</text></g>

<g id="Prey"><rect x="5321" y="1240" width="212" height="223"/><line class="s" x1="5321" y1="1265" x2="5533" y2="1265"/><line class="s" x1="5321" y1="1289" x2="5533" y2="1289"/><text class="t" x="5427" y="1257">Prey</text><text x="5330" y="1281"># type</text><text x="5330" y="1305">+ Prey()</text><text x="5330" y="1320">+ Prey()</text><text x="5330" y="1335">+ ~Prey()</text><text x="5330" y="1350">+ Sum()</text><text x="5330" y="1365">+ Sum()</text><text x="5330" y="1380">+ Reset()</text><text x="5330" y="1395">+ Print()</text><text x="5330" y="1410">+ setCI()</text><text x="5330" y="1425">+ Subtract()</text><text x="5330" y="1440">+ addBiomassConsumption()</text><text x="5330" y="1455">and 16 more...</text></g>

<g id="PopInfo"><rect x="6654" y="50" width="125" height="193"/><line class="s" x1="6654" y1="75" x2="6779" y2="75"/><line class="s" x1="6654" y1="114" x2="6779" y2="114"/><text class="t" x="6716" y="67">PopInfo</text><text x="6663" y="91">+ N</text><text x="6663" y="106">+ W</text><text x="6663" y="130">+ PopInfo()</text><text x="6663" y="145">+ ~PopInfo()</text><text x="6663" y="160">+ operator-=()</text><text x="6663" y="175">+ operator*=()</text><text x="6663" y="190">+ setToZero()</text><text x="6663" y="205">+ operator=()</text><text x="6663" y="220">+ operator+=()</text><text x="6663" y="235">+ operator*()</text></g>

<g id="ModelVariable"><rect x="5952" y="381" width="151" height="208"/><line class="s" x1="5952" y1="406" x2="6103" y2="406"/><line class="s" x1="5952" y1="430" x2="6103" y2="430"/><text class="t" x="6027" y="398">ModelVariable</text><text x="5961" y="446">+ ModelVariable()</text><text x="5961" y="461">+ ~ModelVariable()</text><text x="5961" y="476">+ read()</text><text x="5961" y="491">+ operator double()</text><text x="5961" y="506">+ Interchange()</text><text x="5961" y="521">+ setValue()</text><text x="5961" y="536">+ Update()</text><text x="5961" y="551">+ Delete()</text><text x="5961" y="566">+ didChange()</text><text x="5961" y="581">+ getMvType()</text></g>

<g id="PopInfoIndexVector"><rect x="6532" y="352" width="185" height="268"/><line class="s" x1="6532" y1="377" x2="6717" y2="377"/><line class="s" x1="6532" y1="416" x2="6717" y2="416"/><text class="t" x="6624" y="369">PopInfoIndexVector</text><text x="6541" y="393"># minpos</text><text x="6541" y="408"># size</text><text x="6541" y="432">+ PopInfoIndexVector()</text><text x="6541" y="447">+ PopInfoIndexVector()</text><text x="6541" y="462">+ PopInfoIndexVector()</text><text x="6541" y="477">+ PopInfoIndexVector()</text><text x="6541" y="492">+ ~PopInfoIndexVector()</text><text x="6541" y="507">+ resize()</text><text x="6541" y="522">+ operator[]()</text><text x="6541" y="537">+ operator[]()</text><text x="6541" y="552">+ minCol()</text><text x="6541" y="567">+ maxCol()</text><text x="6541" y="582">+ Size()</text><text x="6541" y="597">+ Add()</text><text x="6541" y="612">+ Add()</text></g>

<g id="PopInfoVector"><rect x="6741" y="374" width="148" height="223"/><line class="s" x1="6741" y1="399" x2="6889" y2="399"/><line class="s" x1="6741" y1="423" x2="6889" y2="423"/><text class="t" x="6815" y="391">PopInfoVector</text><text x="6750" y="415"># size</text><text x="6750" y="439">+ PopInfoVector()</text><text x="6750" y="454">+ PopInfoVector()</text><text x="6750" y="469">+ PopInfoVector()</text><text x="6750" y="484">+ ~PopInfoVector()</text><text x="6750" y="499">+ resizeBlank()</text><text x="6750" y="514">+ resize()</text><text x="6750" y="529">+ Delete()</text><text x="6750" y="544">+ Size()</text><text x="6750" y="559">+ operator[]()</text><text x="6750" y="574">+ operator[]()</text><text x="6750" y="589">+ Sum()</text></g>

<g id="ModelVariableVector"><rect x="5984" y="799" width="193" height="223"/><line class="s" x1="5984" y1="824" x2="6177" y2="824"/><line class="s" x1="5984" y1="848" x2="6177" y2="848"/><text class="t" x="6080" y="816">ModelVariableVector</text><text x="5993" y="840"># size</text><text x="5993" y="864">+ ModelVariableVector()</text><text x="5993" y="879">+ ~ModelVariableVector()</text><text x="5993" y="894">+ setsize()</text><text x="5993" y="909">+ resize()</text><text x="5993" y="924">+ resize()</text><text x="5993" y="939">+ Size()</text><text x="5993" y="954">+ read()</text><text x="5993" y="969">+ operator[]()</text><text x="5993" y="984">+ operator[]()</text><text x="5993" y="999">+ didChange()</text><text x="5993" y="1014">+ Update()</text></g>

<g id="PopInfoMatrix"><rect x="6214" y="807" width="149" height="208"/><line class="s" x1="6214" y1="832" x2="6363" y2="832"/><line class="s" x1="6214" y1="856" x2="6363" y2="856"/><text class="t" x="6288" y="824">PopInfoMatrix</text><text x="6223" y="848"># nrow</text><text x="6223" y="872">+ PopInfoMatrix()</text><text x="6223" y="887">+ PopInfoMatrix()</text><text x="6223" y="902">+ PopInfoMatrix()</text><text x="6223" y="917">+ ~PopInfoMatrix()</text><text x="6223" y="932">+ Ncol()</text><text x="6223" y="947">+ Nrow()</text><text x="6223" y="962">+ operator[]()</text><text x="6223" y="977">+ operator[]()</text><text x="6223" y="992">+ AddRows()</text><text x="6223" y="1007">+ Delete()</text></g>

<g id="AgeBandMatrix"><rect x="6545" y="792" width="159" height="238"/><line class="s" x1="6545" y1="817" x2="6704" y2="817"/><line class="s" x1="6545" y1="856" x2="6704" y2="856"/><text class="t" x="6624" y="809">AgeBandMatrix</text><text x="6554" y="833"># minage</text><text x="6554" y="848"># nrow</text><text x="6554" y="872">+ AgeBandMatrix()</text><text x="6554" y="887">+ AgeBandMatrix()</text><text x="6554" y="902">+ AgeBandMatrix()</text><text x="6554" y="917">+ AgeBandMatrix()</text><text x="6554" y="932">+ AgeBandMatrix()</text><text x="6554" y="947">+ ~AgeBandMatrix()</text><text x="6554" y="962">+ minAge()</text><text x="6554" y="977">+ maxAge()</text><text x="6554" y="992">+ Nrow()</text><text x="6554" y="1007">+ operator[]()</text><text x="6554" y="1022">and 15 more...</text></g>

<g id="SelectFunc"><rect x="5710" y="1269" width="157" height="163"/><line class="s" x1="5710" y1="1294" x2="5867" y2="1294"/><line class="s" x1="5710" y1="1318" x2="5867" y2="1318"/><text class="t" x="5788" y="1286">SelectFunc</text><text x="5719" y="1334">+ SelectFunc()</text><text x="5719" y="1349">+ ~SelectFunc()</text><text x="5719" y="1364">+ readConstants()</text><text x="5719" y="1379">+ updateConstants()</text><text x="5719" y="1394">+ didChange()</text><text x="5719" y="1409">+ calculate()</text><text x="5719" y="1424">+ numConstants()</text></g>

<g id="AgeBandMatrixPtrVector"><rect x="6516" y="1218" width="218" height="268"/><line class="s" x1="6516" y1="1243" x2="6734" y2="1243"/><line class="s" x1="6516" y1="1267" x2="6734" y2="1267"/><text class="t" x="6625" y="1235">AgeBandMatrixPtrVector</text><text x="6525" y="1259"># size</text><text x="6525" y="1283">+ AgeBandMatrixPtrVector()</text><text x="6525" y="1298">+ AgeBandMatrixPtrVector()</text><text x="6525" y="1313">+ AgeBandMatrixPtrVector()</text><text x="6525" y="1328">+ AgeBandMatrixPtrVector()</text><text x="6525" y="1343">+ ~AgeBandMatrixPtrVector()</text><text x="6525" y="1358">+ resize()</text><text x="6525" y="1373">+ resize()</text><text x="6525" y="1388">+ resize()</text><text x="6525" y="1403">+ resize()</text><text x="6525" y="1418">+ Delete()</text><text x="6525" y="1433">+ Size()</text><text x="6525" y="1448">+ operator[]()</text><text x="6525" y="1463">+ operator[]()</text><text x="6525" y="1478">+ Migrate()</text></g>

<g id="AgeBandMatrixRatioPtrVector"><rect x="780" y="1621" width="252" height="238"/><line class="s" x1="780" y1="1646" x2="1032" y2="1646"/><line class="s" x1="780" y1="1670" x2="1032" y2="1670"/><text class="t" x="906" y="1638">AgeBandMatrixRatioPtrVector</text><text x="789" y="1662"># size</text><text x="789" y="1686">+ AgeBandMatrixRatioPtrVector()</text><text x="789" y="1701">+ AgeBandMatrixRatioPtrVector()</text><text x="789" y="1716">+ AgeBandMatrixRatioPtrVector()</text><text x="789" y="1731">+ ~AgeBandMatrixRatioPtrVector()</text><text x="789" y="1746">+ resize()</text><text x="789" y="1761">+ resize()</text><text x="789" y="1776">+ addTag()</text><text x="789" y="1791">+ addTag()</text><text x="789" y="1806">+ deleteTag()</text><text x="789" y="1821">+ Size()</text><text x="789" y="1836">and 8 more...</text><text x="789" y="1851"># addTagName()</text></g>

<g id="InitialCond"><rect x="1438" y="1652" width="222" height="178"/><line class="s" x1="1438" y1="1677" x2="1660" y2="1677"/><line class="s" x1="1438" y1="1701" x2="1660" y2="1701"/><text class="t" x="1549" y="1669">InitialCond</text><text x="1447" y="1693"># readoption</text><text x="1447" y="1717">+ InitialCond()</text><text x="1447" y="1732">+ ~InitialCond()</text><text x="1447" y="1747">+ Initialise()</text><text x="1447" y="1762">+ setCI()</text><text x="1447" y="1777">+ Print()</text><text x="1447" y="1792"># readNormalConditionData()</text><text x="1447" y="1807"># readNormalParameterData()</text><text x="1447" y="1822"># readNumberData()</text></g>

<g id="PopPredator"><rect x="2105" y="1629" width="216" height="223"/><line class="s" x1="2105" y1="1654" x2="2321" y2="1654"/><line class="s" x1="2105" y1="1678" x2="2321" y2="1678"/><text class="t" x="2213" y="1646">PopPredator</text><text x="2114" y="1694">+ PopPredator()</text><text x="2114" y="1709">+ PopPredator()</text><text x="2114" y="1724">+ ~PopPredator()</text><text x="2114" y="1739">+ Print()</text><text x="2114" y="1754">+ getConsumptionPopInfo()</text><text x="2114" y="1769">+ getPredatorNumber()</text><text x="2114" y="1784">+ getConsumption()</text><text x="2114" y="1799">+ hasOverConsumption()</text><text x="2114" y="1814">+ getOverConsumption()</text><text x="2114" y="1829">+ getTotalOverConsumption()</text><text x="2114" y="1844">and 6 more...</text></g>

<g id="SpawnData"><rect class="hl" x="2883" y="1593" width="170" height="298"/><line class="s" x1="2883" y1="1618" x2="3053" y2="1618"/><line class="s" x1="2883" y1="1732" x2="3053" y2="1732"/><text class="t" x="2968" y="1610">SpawnData</text><text x="2892" y="1634"># ratioscale</text><text x="2892" y="1649"># spawnFirstYear</text><text x="2892" y="1664"># spawnLastYear</text><text x="2892" y="1679"># onlyParent</text><text x="2892" y="1694"># spawnAge</text><text x="2892" y="1709"># functionnumber</text><text x="2892" y="1724"># functionname</text><text x="2892" y="1748">+ SpawnData()</text><text x="2892" y="1763">+ ~SpawnData()</text><text x="2892" y="1778">+ setStock()</text><text x="2892" y="1793">+ addSpawnStock()</text><text x="2892" y="1808">+ Spawn()</text><text x="2892" y="1823">+ isSpawnStepArea()</text><text x="2892" y="1838">+ Print()</text><text x="2892" y="1853">+ Reset()</text><text x="2892" y="1868"># calcSpawnNumber()</text><text x="2892" y="1883"># calcRecruitNumber()</text></g>

<g id="Grower"><rect x="3500" y="1578" width="190" height="328"/><line class="s" x1="3500" y1="1603" x2="3690" y2="1603"/><line class="s" x1="3500" y1="1702" x2="3690" y2="1702"/><text class="t" x="3595" y="1595">Grower</text><text x="3509" y="1619"># functionnumber</text><text x="3509" y="1634"># fixedweights</text><text x="3509" y="1649"># maxlengthgroupgrowth</text><text x="3509" y="1664"># growth</text><text x="3509" y="1679"># alpha</text><text x="3509" y="1694"># part3</text><text x="3509" y="1718">+ Grower()</text><text x="3509" y="1733">+ ~Grower()</text><text x="3509" y="1748">+ calcGrowth()</text><text x="3509" y="1763">+ calcGrowth()</text><text x="3509" y="1778">+ implementGrowth()</text><text x="3509" y="1793">+ implementGrowth()</text><text x="3509" y="1808">+ Sum()</text><text x="3509" y="1823">+ Reset()</text><text x="3509" y="1838">+ Print()</text><text x="3509" y="1853">+ getLengthIncrease()</text><text x="3509" y="1868">+ getWeightIncrease()</text><text x="3509" y="1883">+ getWeight()</text><text x="3509" y="1898">+ getFixedWeights()</text></g>

<g id="StockPtrVector"><rect x="2733" y="2446" width="153" height="208"/><line class="s" x1="2733" y1="2471" x2="2886" y2="2471"/><line class="s" x1="2733" y1="2495" x2="2886" y2="2495"/><text class="t" x="2809" y="2463">StockPtrVector</text><text x="2742" y="2487"># size</text><text x="2742" y="2511">+ StockPtrVector()</text><text x="2742" y="2526">+ StockPtrVector()</text><text x="2742" y="2541">+ ~StockPtrVector()</text><text x="2742" y="2556">+ resize()</text><text x="2742" y="2571">+ Delete()</text><text x="2742" y="2586">+ Size()</text><text x="2742" y="2601">+ Reset()</text><text x="2742" y="2616">+ operator[]()</text><text x="2742" y="2631">+ operator[]()</text><text x="2742" y="2646">+ operator=()</text></g>

<g id="Maturity"><rect x="1813" y="2724" width="184" height="298"/><line class="s" x1="1813" y1="2749" x2="1997" y2="2749"/><line class="s" x1="1813" y1="2788" x2="1997" y2="2788"/><text class="t" x="1905" y="2741">Maturity</text><text x="1822" y="2765"># tmpratio</text><text x="1822" y="2780"># ratioscale</text><text x="1822" y="2804">+ Maturity()</text><text x="1822" y="2819">+ Maturity()</text><text x="1822" y="2834">+ ~Maturity()</text><text x="1822" y="2849">+ setStock()</text><text x="1822" y="2864">+ Print()</text><text x="1822" y="2879">+ Reset()</text><text x="1822" y="2894">+ isMaturationStep()</text><text x="1822" y="2909">+ calcMaturation()</text><text x="1822" y="2924">+ storeMatureStock()</text><text x="1822" y="2939">+ storeMatureTagStock()</text><text x="1822" y="2954">+ Move()</text><text x="1822" y="2969">+ getMatureStocks()</text><text x="1822" y="2984">+ setTagged()</text><text x="1822" y="2999">+ addMaturityTag()</text><text x="1822" y="3014">+ deleteMaturityTag()</text></g>

<g id="Transition"><rect x="2460" y="2717" width="178" height="313"/><line class="s" x1="2460" y1="2742" x2="2638" y2="2742"/><line class="s" x1="2460" y1="2826" x2="2638" y2="2826"/><text class="t" x="2549" y="2734">Transition</text><text x="2469" y="2758"># ratioscale</text><text x="2469" y="2773"># transitionStep</text><text x="2469" y="2788"># age</text><text x="2469" y="2803"># minTransitionLength</text><text x="2469" y="2818"># istagged</text><text x="2469" y="2842">+ Transition()</text><text x="2469" y="2857">+ ~Transition()</text><text x="2469" y="2872">+ setStock()</text><text x="2469" y="2887">+ storeTransitionStock()</text><text x="2469" y="2902">+ storeTransitionStock()</text><text x="2469" y="2917">+ Move()</text><text x="2469" y="2932">+ Print()</text><text x="2469" y="2947">+ getTransitionStocks()</text><text x="2469" y="2962">+ setTagged()</text><text x="2469" y="2977">+ addTransitionTag()</text><text x="2469" y="2992">+ deleteTransitionTag()</text><text x="2469" y="3007">+ Reset()</text><text x="2469" y="3022">+ isTransitionStep()</text></g>

<g id="TagPtrVector"><rect x="4197" y="1622" width="138" height="238"/><line class="s" x1="4197" y1="1647" x2="4335" y2="1647"/><line class="s" x1="4197" y1="1671" x2="4335" y2="1671"/><text class="t" x="4266" y="1639">TagPtrVector</text><text x="4206" y="1663"># size</text><text x="4206" y="1687">+ TagPtrVector()</text><text x="4206" y="1702">+ TagPtrVector()</text><text x="4206" y="1717">+ ~TagPtrVector()</text><text x="4206" y="1732">+ resize()</text><text x="4206" y="1747">+ Delete()</text><text x="4206" y="1762">+ Size()</text><text x="4206" y="1777">+ operator[]()</text><text x="4206" y="1792">+ operator[]()</text><text x="4206" y="1807">+ updateTags()</text><text x="4206" y="1822">+ deleteTags()</text><text x="4206" y="1837">+ deleteAllTags()</text><text x="4206" y="1852">+ deleteAll()</text></g>

<g id="RenewalData"><rect x="4375" y="1629" width="220" height="223"/><line class="s" x1="4375" y1="1654" x2="4595" y2="1654"/><line class="s" x1="4375" y1="1693" x2="4595" y2="1693"/><text class="t" x="4485" y="1646">RenewalData</text><text x="4384" y="1670"># readoption</text><text x="4384" y="1685"># index</text><text x="4384" y="1709">+ RenewalData()</text><text x="4384" y="1724">+ ~RenewalData()</text><text x="4384" y="1739">+ addRenewal()</text><text x="4384" y="1754">+ setCI()</text><text x="4384" y="1769">+ Print()</text><text x="4384" y="1784">+ Reset()</text><text x="4384" y="1799">+ isRenewalStepArea()</text><text x="4384" y="1814"># readNormalConditionData()</text><text x="4384" y="1829"># readNormalParameterData()</text><text x="4384" y="1844"># readNumberData()</text></g>

<g id="Stock"><rect x="3715" y="2011" width="194" height="373"/><line class="s" x1="3715" y1="2036" x2="3909" y2="2036"/><line class="s" x1="3715" y1="2210" x2="3909" y2="2210"/><text class="t" x="3812" y="2028">Stock</text><text x="3724" y="2052"># doeseat</text><text x="3724" y="2067"># doesmove</text><text x="3724" y="2082"># iseaten</text><text x="3724" y="2097"># doesspawn</text><text x="3724" y="2112"># doesmature</text><text x="3724" y="2127"># doesrenew</text><text x="3724" y="2142"># doesgrow</text><text x="3724" y="2157"># doesmigrate</text><text x="3724" y="2172"># doesstray</text><text x="3724" y="2187"># birthdate</text><text x="3724" y="2202"># istagged</text><text x="3724" y="2226">+ Stock()</text><text x="3724" y="2241">+ Stock()</text><text x="3724" y="2256">+ ~Stock()</text><text x="3724" y="2271">+ calcNumbers()</text><text x="3724" y="2286">+ reducePop()</text><text x="3724" y="2301">+ Grow()</text><text x="3724" y="2316">+ updateAgePart1()</text><text x="3724" y="2331">+ updateAgePart2()</text><text x="3724" y="2346">+ updateAgePart3()</text><text x="3724" y="2361">+ updatePopulationPart1()</text><text x="3724" y="2376">and 45 more...</text></g>

<g id="NaturalMortality"><rect x="5461" y="1665" width="166" height="148"/><line class="s" x1="5461" y1="1690" x2="5627" y2="1690"/><line class="s" x1="5461" y1="1729" x2="5627" y2="1729"/><text class="t" x="5544" y="1682">NaturalMortality</text><text x="5470" y="1706"># minStockAge</text><text x="5470" y="1721"># readoption</text><text x="5470" y="1745">+ NaturalMortality()</text><text x="5470" y="1760">+ ~NaturalMortality()</text><text x="5470" y="1775">+ getProportion()</text><text x="5470" y="1790">+ Reset()</text><text x="5470" y="1805">+ Print()</text></g>

<g id="StrayData"><rect x="5387" y="2732" width="171" height="283"/><line class="s" x1="5387" y1="2757" x2="5558" y2="2757"/><line class="s" x1="5387" y1="2811" x2="5558" y2="2811"/><text class="t" x="5472" y="2749">StrayData</text><text x="5396" y="2773"># ratioscale</text><text x="5396" y="2788"># minStrayLength</text><text x="5396" y="2803"># istagged</text><text x="5396" y="2827">+ StrayData()</text><text x="5396" y="2842">+ ~StrayData()</text><text x="5396" y="2857">+ Print()</text><text x="5396" y="2872">+ setStock()</text><text x="5396" y="2887">+ addStrayStock()</text><text x="5396" y="2902">+ storeStrayingStock()</text><text x="5396" y="2917">+ storeStrayingStock()</text><text x="5396" y="2932">+ isStrayStepArea()</text><text x="5396" y="2947">+ Reset()</text><text x="5396" y="2962">+ getStrayStocks()</text><text x="5396" y="2977">+ setTagged()</text><text x="5396" y="2992">+ addStrayTag()</text><text x="5396" y="3007">+ deleteStrayTag()</text></g>

<g id="StockPrey"><rect x="6205" y="1659" width="178" height="163"/><line class="s" x1="6205" y1="1684" x2="6383" y2="1684"/><line class="s" x1="6205" y1="1708" x2="6383" y2="1708"/><text class="t" x="6294" y="1676">StockPrey</text><text x="6214" y="1724">+ StockPrey()</text><text x="6214" y="1739">+ ~StockPrey()</text><text x="6214" y="1754">+ Sum()</text><text x="6214" y="1769">+ Print()</text><text x="6214" y="1784">+ minAge()</text><text x="6214" y="1799">+ maxAge()</text><text x="6214" y="1814">+ getConsumptionALK()</text></g>
</svg>
